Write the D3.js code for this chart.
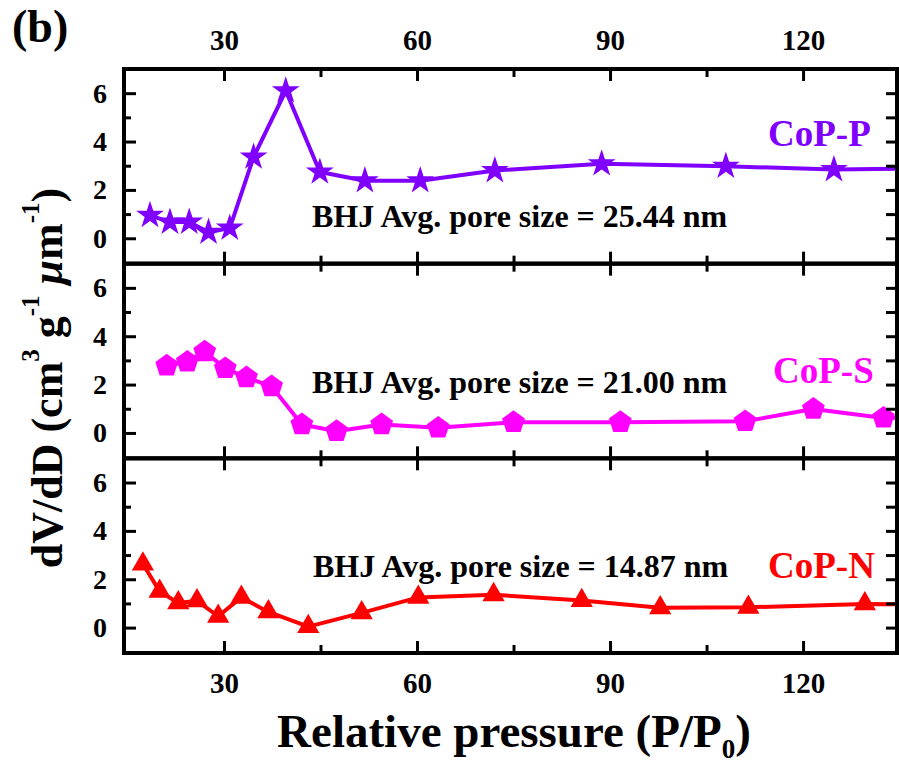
<!DOCTYPE html>
<html>
<head>
<meta charset="utf-8">
<script src="https://cdn.jsdelivr.net/npm/d3@7"></script>
<style>
  html, body { margin: 0; padding: 0; background: #fff; }
  svg { display: block; }
  svg text { font-family: "Times New Roman", Times, "Liberation Serif", "DejaVu Serif", serif !important; font-weight: bold; }
</style>
</head>
<body>
<svg id="chart" width="899" height="763"></svg>
<script>
// ---------------- data ----------------
const xMajorTicks = [30, 60, 90, 120];
const xMinorTicks = [45, 75, 105];
const yMajorTicks = [0, 2, 4, 6];
const yMinorTicks = [1, 3, 5];

const seriesNames = ["CoP-P", "CoP-S", "CoP-N"];
const seriesColors = ["#8000ff", "#ff00ff", "#ff0000"];
const annotations = ["BHJ Avg. pore size = 25.44 nm", "BHJ Avg. pore size = 21.00 nm", "BHJ Avg. pore size = 14.87 nm"];

const copP_x = [18.5, 21.6, 24.6, 27.6, 30.9, 34.6, 39.6, 44.9, 51.9, 60.5, 72.1, 88.7, 108.0, 124.8, 141];
const copP_y = [0.95, 0.67, 0.67, 0.25, 0.42, 3.36, 6.10, 2.74, 2.38, 2.38, 2.80, 3.08, 2.98, 2.84, 2.90];

const copS_x = [21.1, 24.3, 27.0, 30.2, 33.5, 37.4, 42.1, 47.5, 54.5, 63.3, 75.0, 91.6, 111.0, 121.6, 132.5, 142];
const copS_y = [2.78, 2.94, 3.36, 2.67, 2.29, 1.92, 0.35, 0.07, 0.35, 0.21, 0.44, 0.44, 0.48, 0.99, 0.62, 0.68];

const copN_x = [17.4, 20.0, 22.9, 25.8, 29.1, 32.7, 36.9, 43.1, 51.4, 60.2, 71.9, 85.6, 97.8, 111.5, 129.6, 140];
const copN_y = [2.63, 1.50, 1.02, 1.11, 0.47, 1.25, 0.65, 0.04, 0.61, 1.25, 1.36, 1.12, 0.82, 0.84, 0.98, 0.95];

const xDomain = [14.46, 134.6];
const yDomain = [-1.05, 7.0];

// ---------------- layout ----------------
const FONT = "'Times New Roman', Times, 'Liberation Serif', 'DejaVu Serif', serif";
const svg = d3.select("#chart");
const mLeft = 124, mRight = 897, mTop = 69, mBottom = 653;
const panelH = (mBottom - mTop) / 3;

const x = d3.scaleLinear().domain(xDomain).range([mLeft, mRight]);

const pentagon = {
  draw(ctx, size) {
    const r = Math.sqrt(size / 2.3776);
    for (let i = 0; i < 5; i++) {
      const a = -Math.PI / 2 + i * 2 * Math.PI / 5;
      const px = r * Math.cos(a), py = r * Math.sin(a);
      if (i === 0) ctx.moveTo(px, py); else ctx.lineTo(px, py);
    }
    ctx.closePath();
  }
};
const symbols = [d3.symbolStar, pentagon, d3.symbolTriangle];
const symbolSizes = [240, 340, 215];

const seriesData = [
  copP_x.map((v, i) => ({x: v, y: copP_y[i]})),
  copS_x.map((v, i) => ({x: v, y: copS_y[i]})),
  copN_x.map((v, i) => ({x: v, y: copN_y[i]}))
];

const annoPos = [[312, 227], [312, 393], [313, 577]];
const labelPos = [[768, 146], [773, 383], [768, 578]];

const defs = svg.append("defs");

function styleAxis(sel, fs) {
  sel.attr("font-family", FONT).attr("font-weight", "bold");
  sel.select(".domain").remove();
  sel.selectAll("line").attr("stroke-width", 3);
  if (fs) sel.selectAll("text").attr("font-size", fs).attr("fill", "#000");
}

for (let p = 0; p < 3; p++) {
  const pTop = mTop + p * panelH, pBot = pTop + panelH;
  const y = d3.scaleLinear().domain(yDomain).range([pBot, pTop]);
  const g = svg.append("g");

  defs.append("clipPath").attr("id", "clip" + p)
    .append("rect").attr("x", mLeft).attr("y", pTop).attr("width", mRight - mLeft).attr("height", panelH);

  // line and markers
  const plot = g.append("g").attr("clip-path", "url(#clip" + p + ")");
  const line = d3.line().x(d => x(d.x)).y(d => y(d.y));
  plot.append("path").datum(seriesData[p])
    .attr("d", line).attr("fill", "none")
    .attr("stroke", seriesColors[p]).attr("stroke-width", 4).attr("stroke-linejoin", "round");
  plot.selectAll("path.sym").data(seriesData[p]).enter().append("path")
    .attr("class", "sym")
    .attr("transform", d => `translate(${x(d.x)},${y(d.y)})`)
    .attr("d", d3.symbol().type(symbols[p]).size(symbolSizes[p])())
    .attr("fill", seriesColors[p]);

  // y axis left (inward ticks)
  styleAxis(g.append("g").attr("transform", `translate(${mLeft},0)`)
    .call(d3.axisLeft(y).tickValues(yMajorTicks).tickSize(-12).tickPadding(17).tickFormat(d3.format("d"))), 28);
  styleAxis(g.append("g").attr("transform", `translate(${mLeft},0)`)
    .call(d3.axisLeft(y).tickValues(yMinorTicks).tickSize(-7).tickFormat("")));

  // y axis right (inward ticks)
  styleAxis(g.append("g").attr("transform", `translate(${mRight},0)`)
    .call(d3.axisRight(y).tickValues(yMajorTicks.concat(yMinorTicks)).tickSize(-11).tickFormat("")));

  // x ticks on top and bottom of each panel (inward)
  styleAxis(g.append("g").attr("transform", `translate(0,${pTop})`)
    .call(d3.axisTop(x).tickValues(xMajorTicks).tickSize(-12).tickPadding(19).tickFormat(p === 0 ? d3.format("d") : "")), 29);
  styleAxis(g.append("g").attr("transform", `translate(0,${pTop})`)
    .call(d3.axisTop(x).tickValues(xMinorTicks).tickSize(-8).tickFormat("")));
  styleAxis(g.append("g").attr("transform", `translate(0,${pBot})`)
    .call(d3.axisBottom(x).tickValues(xMajorTicks).tickSize(-12).tickPadding(19).tickFormat(p === 2 ? d3.format("d") : "")), 29);
  styleAxis(g.append("g").attr("transform", `translate(0,${pBot})`)
    .call(d3.axisBottom(x).tickValues(xMinorTicks).tickSize(-8).tickFormat("")));

  // frame
  g.append("rect").attr("x", mLeft).attr("y", pTop).attr("width", mRight - mLeft).attr("height", panelH)
    .attr("fill", "none").attr("stroke", "#000").attr("stroke-width", 4);

  // texts
  g.append("text").attr("x", annoPos[p][0]).attr("y", annoPos[p][1]).attr("font-family", FONT)
    .attr("font-size", 32).attr("fill", "#000").text(annotations[p]);
  g.append("text").attr("x", labelPos[p][0]).attr("y", labelPos[p][1]).attr("font-family", FONT)
    .attr("font-size", 37).attr("fill", seriesColors[p]).text(seriesNames[p]);
}

// panel label
svg.append("text").attr("x", 12).attr("y", 42).attr("font-family", FONT).attr("font-size", 46).attr("fill", "#000").text("(b)");

// x title
const xt = svg.append("text").attr("x", 514).attr("y", 747).attr("text-anchor", "middle").attr("font-family", FONT)
  .attr("font-size", 47).attr("fill", "#000");
xt.append("tspan").text("Relative pressure (P/P");
xt.append("tspan").attr("font-size", 27).attr("dy", 11).text("0");
xt.append("tspan").attr("dy", -11).text(")");

// y title
const yt = svg.append("text").attr("transform", "translate(62,378) rotate(-90)").attr("font-family", FONT)
  .attr("text-anchor", "middle").attr("font-size", 44).attr("fill", "#000");
yt.append("tspan").text("dV/dD (cm");
yt.append("tspan").attr("font-size", 25).attr("dy", -23).text("3");
yt.append("tspan").attr("dy", 23).text(" g");
yt.append("tspan").attr("font-size", 25).attr("dy", -23).text("-1");
yt.append("tspan").attr("dy", 23).text(" ");
yt.append("tspan").attr("font-style", "italic").text("μ");
yt.append("tspan").text("m");
yt.append("tspan").attr("font-size", 25).attr("dy", -23).text("-1");
yt.append("tspan").attr("dy", 23).text(")");
</script>
</body>
</html>
